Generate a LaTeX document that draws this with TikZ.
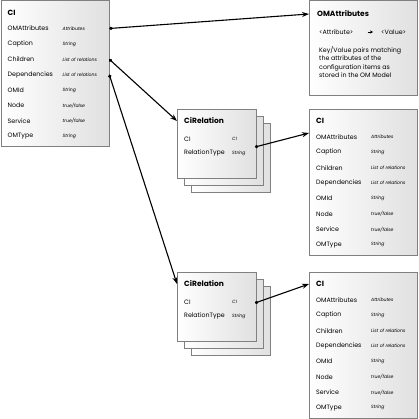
\documentclass[tikz,border=0pt]{standalone}
\usepackage{fontspec}
\setmainfont{Poppins}
\usetikzlibrary{arrows.meta}

\begin{document}
\begin{tikzpicture}[x=1pt,y=-1pt,
	box/.style={draw=black!50,line width=0.8pt,left color=white,right color=black!12,inner sep=0,anchor=north west},
	cibox/.style={box,minimum width=108pt,minimum height=146pt},
	relbox/.style={box,minimum width=79pt,minimum height=69pt},
	title/.style={anchor=west,inner sep=0,font=\fontsize{7.5}{9}\selectfont\bfseries},
	field/.style={anchor=west,inner sep=0,font=\fontsize{6.3}{7}\selectfont},
	kind/.style={anchor=west,inner sep=0,font=\fontsize{4.6}{6}\selectfont\itshape},
	link/.style={line width=1.1pt,{Circle[length=3.2pt]}-{Stealth[length=7pt,width=5pt]}}]
	\useasboundingbox (0,0) rectangle (418,419);

	% the three CI records
	\foreach \b/\bx/\by in {ci1/0.5/0.5, ci2/309/109, ci3/309/272} {
		\node [cibox] (\b) at (\bx,\by) {};
		\node [title] (\b-t) at (\bx+7,\by+12) {CI};
		\foreach \f/\k [count=\i] in {OMAttributes/Attributes, Caption/String, Children/List of relations, Dependencies/List of relations, OMId/String, Node/{true/false}, Service/{true/false}, OMType/String} {
			\node [field] (\b-\i) at (\bx+7,\by+28+15.4*\i-15.4) {\f};
			\node [kind] (\b-k\i) at (\bx+62,\by+28+15.4*\i-15.4) {\k};
		}
	}

	% the two CiRelation stacks
	\foreach \r/\ry in {rel1/109, rel2/272} {
		\node [relbox] (\r-b2) at (191,\ry+14) {};
		\node [relbox] (\r-b1) at (184,\ry+7) {};
		\node [relbox] (\r) at (177,\ry) {};
		\node [title] (\r-t) at (184,\ry+12) {CiRelation};
		\node [field] (\r-1) at (184,\ry+30) {CI};
		\node [kind] (\r-k1) at (232,\ry+30) {CI};
		\node [field] (\r-2) at (184,\ry+44) {RelationType};
		\node [kind] (\r-k2) at (232,\ry+44) {String};
	}

	% OMAttributes
	\node [box,minimum width=108pt,minimum height=95pt] (om) at (309,0.5) {};
	\node [title] (om-t) at (317,14) {OMAttributes};
	\node [field] (om-k) at (319,32) {<Attribute>};
	\node [field] (om-v) at (381,32) {<Value>};
	\node [field,anchor=north west,align=left,font=\fontsize{6.3}{8.5}\selectfont] (om-d) at (319,46)
		{Key/Value pairs matching\\the attributes of the\\configuration items as\\stored in the OM Model};
	\draw [line width=0.6pt,-{Stealth[length=3pt,width=3pt]}] ([xshift=14pt]om-k.east) -- ([xshift=-8pt]om-v.west);

	\coordinate (rel1-out) at (255,147);
	\coordinate (rel2-out) at (255,303);
	\coordinate (ci2-in) at (309,133);

	\draw [link] (ci1.east |- ci1-1) -- (om.west |- om-t);
	\draw [link] (ci1.east |- ci1-3) -- (rel1.west |- rel1-t);
	\draw [link] (ci1.east |- ci1-4) -- (rel2.west |- rel2-t);
	\draw [link] (rel1-out) -- (ci2-in);
	\draw [link] (rel2-out) -- (ci3.west |- ci3-t);
\end{tikzpicture}
\end{document}
